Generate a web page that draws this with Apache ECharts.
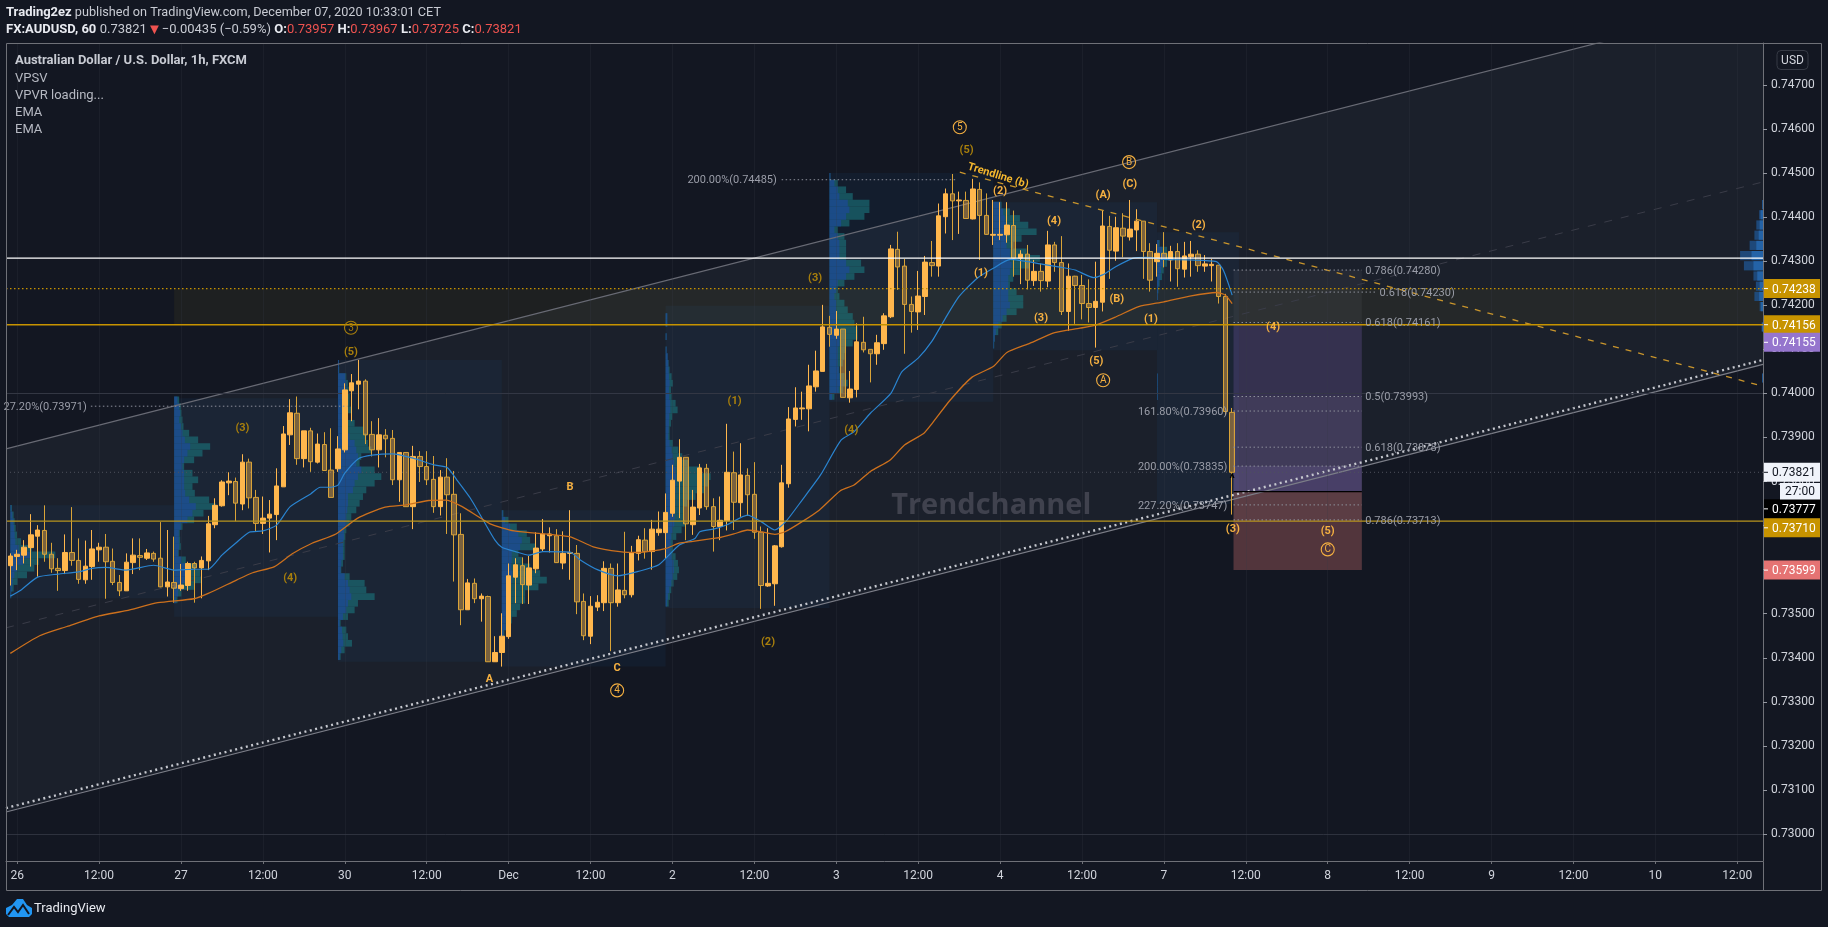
<!DOCTYPE html>
<html><head><meta charset="utf-8"><style>html,body{margin:0;padding:0;background:#131722}#c{width:1828px;height:927px}</style>
<script src="https://cdn.jsdelivr.net/npm/echarts@6/dist/echarts.min.js"></script></head><body><div id="c"></div>
<script>
const opens=[.73609,.73630,.73633,.73650,.73676,.73689,.73635,.73603,.73598,.73639,.73621,.73577,.73607,.73645,.73651,.73619,.73571,.73552,.73616,.73632,.73626,.73637,.73626,.73561,.73571,.73557,.73564,.73614,.73604,.73620,.73702,.73745,.73797,.73800,.73749,.73844,.73764,.73705,.73717,.73725,.73788,.73906,.73955,.73852,.73915,.73844,.73884,.73826,.73829,.73872,.74006,.74021,.74028,.73907,.73872,.73905,.73898,.73804,.73866,.73743,.73857,.73834,.73805,.73743,.73810,.73771,.73680,.73509,.73569,.73534,.73539,.73391,.73412,.73448,.73583,.73609,.73565,.73602,.73647,.73677,.73677,.73615,.73637,.73637,.73528,.73449,.73515,.73525,.73603,.73525,.73553,.73543,.73637,.73667,.73641,.73684,.73684,.73728,.73801,.73855,.73702,.73740,.73830,.73743,.73698,.73711,.73820,.73752,.73814,.73771,.73685,.73563,.73568,.73652,.73795,.73941,.73965,.73965,.74015,.74050,.74150,.74132,.74146,.73990,.74009,.74116,.74100,.74090,.74113,.74174,.74327,.74289,.74202,.74185,.74220,.74297,.74289,.74401,.74453,.74437,.74438,.74396,.74463,.74404,.74359,.74359,.74360,.74381,.74307,.74316,.74256,.74277,.74255,.74337,.74297,.74186,.74266,.74245,.74204,.74195,.74207,.74379,.74323,.74375,.74355,.74371,.74391,.74322,.74299,.74318,.74303,.74322,.74282,.74310,.74316,.74289,.74290,.74291,.74220,.73957];
const closes=[.73631,.73635,.73651,.73679,.73690,.73635,.73602,.73598,.73639,.73621,.73578,.73608,.73647,.73651,.73618,.73571,.73552,.73617,.73633,.73628,.73638,.73624,.73561,.73572,.73558,.73565,.73614,.73604,.73621,.73704,.73746,.73799,.73801,.73751,.73844,.73763,.73705,.73717,.73726,.73790,.73908,.73956,.73852,.73915,.73845,.73885,.73825,.73764,.73874,.74008,.74024,.74028,.73906,.73872,.73906,.73897,.73804,.73866,.73743,.73857,.73834,.73804,.73743,.73810,.73770,.73679,.73509,.73570,.73534,.73540,.73391,.73412,.73449,.73586,.73611,.73566,.73604,.73649,.73681,.73681,.73616,.73637,.73639,.73527,.73450,.73517,.73526,.73603,.73525,.73554,.73543,.73638,.73668,.73641,.73692,.73692,.73730,.73803,.73855,.73704,.73742,.73831,.73743,.73698,.73712,.73821,.73753,.73815,.73770,.73685,.73564,.73569,.73654,.73797,.73942,.73967,.73967,.74017,.74051,.74151,.74134,.74146,.73991,.74010,.74117,.74099,.74090,.74115,.74176,.74328,.74287,.74202,.74186,.74221,.74298,.74290,.74403,.74453,.74437,.74439,.74397,.74464,.74404,.74361,.74361,.74361,.74382,.74307,.74316,.74257,.74277,.74256,.74337,.74297,.74186,.74266,.74245,.74204,.74195,.74209,.74380,.74325,.74376,.74357,.74373,.74391,.74322,.74257,.74318,.74304,.74322,.74283,.74312,.74316,.74290,.74294,.74293,.74220,.73959,.73821];
const lows=[.73564,.73599,.73614,.73607,.73584,.73618,.73593,.73552,.73590,.73609,.73568,.73568,.73577,.73618,.73534,.73565,.73540,.73552,.73590,.73599,.73622,.73618,.73560,.73539,.73525,.73552,.73552,.73525,.73535,.73599,.73694,.73743,.73769,.73710,.73735,.73739,.73686,.73681,.73639,.73667,.73788,.73883,.73838,.73832,.73822,.73841,.73825,.73764,.73822,.73866,.73937,.73964,.73885,.73857,.73832,.73855,.73792,.73754,.73743,.73692,.73799,.73792,.73729,.73723,.73681,.73573,.73474,.73509,.73524,.73482,.73391,.73391,.73380,.73443,.73524,.73522,.73522,.73592,.73642,.73639,.73616,.73601,.73577,.73499,.73440,.73431,.73506,.73506,.73415,.73516,.73535,.73537,.73621,.73625,.73600,.73677,.73626,.73720,.73717,.73667,.73679,.73724,.73736,.73641,.73667,.73689,.73690,.73720,.73722,.73670,.73511,.73561,.73518,.73650,.73786,.73925,.73940,.73914,.74004,.74050,.74106,.74124,.73991,.73979,.73991,.74093,.74025,.74065,.74099,.74171,.74235,.74090,.74138,.74144,.74178,.74265,.74265,.74363,.74348,.74362,.74396,.74395,.74303,.74360,.74337,.74348,.74342,.74265,.74248,.74236,.74244,.74231,.74241,.74276,.74178,.74142,.74158,.74168,.74161,.74104,.74186,.74260,.74301,.74309,.74347,.74323,.74260,.74231,.74265,.74286,.74254,.74242,.74263,.74265,.74276,.74276,.74254,.74204,.73951,.73725];
const highs=[.73637,.73645,.73667,.73726,.73701,.73746,.73661,.73626,.73680,.73742,.73671,.73666,.73690,.73661,.73681,.73648,.73588,.73637,.73671,.73671,.73647,.73641,.73708,.73690,.73675,.73613,.73618,.73618,.73630,.73722,.73762,.73803,.73821,.73809,.73862,.73852,.73781,.73766,.73758,.73830,.73926,.73987,.73993,.73915,.73922,.73909,.73912,.73921,.73903,.74023,.74044,.74076,.74032,.73937,.73944,.73919,.73917,.73866,.73866,.73881,.73869,.73869,.73858,.73826,.73853,.73824,.73728,.73579,.73580,.73546,.73541,.73449,.73501,.73614,.73626,.73628,.73631,.73685,.73715,.73696,.73692,.73687,.73735,.73656,.73546,.73540,.73542,.73619,.73614,.73614,.73686,.73654,.73677,.73694,.73713,.73732,.73773,.73838,.73896,.73855,.73781,.73840,.73840,.73762,.73766,.73931,.73868,.73887,.73830,.73844,.73698,.73694,.73656,.73838,.73969,.74014,.74004,.74065,.74097,.74201,.74176,.74187,.74146,.74051,.74159,.74174,.74100,.74133,.74182,.74337,.74367,.74305,.74220,.74278,.74312,.74346,.74431,.74465,.74498,.74458,.74458,.74487,.74479,.74454,.74439,.74434,.74434,.74415,.74325,.74337,.74303,.74295,.74369,.74344,.74357,.74295,.74267,.74269,.74259,.74299,.74416,.74403,.74401,.74409,.74439,.74418,.74391,.74341,.74339,.74366,.74335,.74341,.74344,.74346,.74325,.74314,.74305,.74291,.74226,.73967];

const emaFastBars=[0,1.4,4,7,10,12,14,17,21,24,27,29,31,33,35,37,39,41,44,45.4,47,48,49,51,53,56,59,62,64,65.4,67.4,69,71,72,74,76,78,82,83.5,86,89,92,95,98,100.3,101,103,105,108,110,112,113.6,116,118.7,121.7,123.6,126,129,130.6,133,135,137,139,141.6,144,146.5,151.3,154,156,158.7,160,162,164.5,166.5,169,172.8,176.7,177.7,179];
const emaFast=[.73540,.73552,.73583,.73590,.73595,.73603,.73605,.73599,.73610,.73599,.73601,.73601,.73633,.73660,.73685,.73688,.73701,.73743,.73772,.73787,.73787,.73792,.73819,.73852,.73860,.73863,.73853,.73838,.73832,.73804,.73762,.73720,.73667,.73651,.73641,.73633,.73641,.73640,.73622,.73600,.73586,.73596,.73611,.73656,.73671,.73686,.73692,.73702,.73724,.73709,.73690,.73709,.73758,.73815,.73894,.73913,.73955,.74000,.74049,.74080,.74118,.74171,.74220,.74261,.74284,.74304,.74293,.74286,.74280,.74263,.74269,.74288,.74307,.74309,.74304,.74303,.74299,.74280,.74223];
const emaSlowBars=[0,4.3,8.3,13,17,21.6,26.9,29,33.2,35.5,38.7,41.3,44.2,47.7,50.9,54.9,58,61.3,63.9,66.2,70.3,73.8,81.9,85.4,89.3,92,96,98,100,103,104,106,108,110,112,113.5,116,118.5,121.6,123.6,126,128.9,131,133.8,135,137.7,140.9,144,146,149.4,153,156.7,159,162,165.3,169,172.8,176.7,178,179];
const emaSlow=[.73410,.73450,.73471,.73495,.73507,.73525,.73534,.73546,.73577,.73593,.73607,.73636,.73660,.73681,.73717,.73742,.73747,.73757,.73758,.73743,.73704,.73688,.73675,.73652,.73641,.73639,.73648,.73660,.73664,.73671,.73673,.73681,.73690,.73686,.73680,.73686,.73709,.73735,.73779,.73792,.73823,.73849,.73883,.73909,.73931,.73985,.74037,.74061,.74093,.74114,.74138,.74148,.74155,.74174,.74197,.74208,.74221,.74229,.74223,.74204];

const tickBars=[1,13,25,37,49,61,73,85,97,109,121,133,145,157,169,181,193,205,217,229,241,253];
const tickLabels=['26','12:00','27','12:00','30','12:00','Dec','12:00','2','12:00','3','12:00','4','12:00','7','12:00','8','12:00','9','12:00','10','12:00'];
const priceTicks=[.730,.731,.732,.733,.734,.735,.736,.737,.738,.739,.740,.741,.742,.743,.744,.745,.746,.747];

// session boxes: first bar, last bar, high, low
const sessionFrom=[0,24,48,72,96,120,144,168];
const sessionTo=[24,48,72,96,120,144,168,180];
const sessionHigh=[.73746,.73989,.74076,.73735,.74199,.74500,.74434,.74366];
const sessionLow=[.73535,.73493,.73391,.73380,.73513,.73981,.74098,.73749];
const sessionTop=[.73747,.73993,.74076,.73735,.74182,.74500,.74435,.74348];
const rowStep=.0001513;
const vpTotal1=[5,10,13,16,20,32,65,135,85,72,50,22,10,3];
const vpUp1=[3,6,9,11,13,15,25,58,38,20,12,7,5,2];
const vpTotal2=[15,20,22,25,28,45,72,108,85,60,30,55,72,55,62,105,125,88,60,25,17,18,20,14,35,65,78,80,60,22,10];
const vpUp2=[10,15,18,15,20,25,32,48,40,30,25,30,30,30,33,45,65,55,40,20,14,14,15,12,22,35,38,32,25,12,5];
const vpTotal3=[3,4,25,30,32,35,35,40,30,50,75,85,90,100,70,65,110,130,110,85,75,65,55,40,35,25,22,20,20,20,15,10,35,80,85,110,60,50,30,8,25,30,42,20,8];
const vpUp3=[3,3,22,25,25,30,28,28,28,30,30,35,50,55,60,55,70,60,50,45,30,30,28,25,25,18,18,15,15,15,10,8,20,30,35,40,30,25,15,5,12,14,16,10,5];
const vpTotal4=[5,20,45,75,85,100,50,60,85,115,135,110,70,70,55,45,30,22,8];
const vpUp4=[3,10,25,50,60,55,30,30,28,32,30,28,22,20,18,15,12,12,5];
const vpTotal5=[5,5,0,3,0,3,6,9,12,18,22,16,18,30,36,20,16,12,12,22,38,50,68,105,135,130,115,90,65,55,55,58,48,32,22,22,30,37,40,35,24,17,13,9];
const vpUp5=[5,5,0,3,0,3,6,8,9,10,12,10,11,14,14,11,10,9,8,12,18,22,26,30,31,31,30,29,29,27,27,26,21,17,15,15,18,24,25,22,17,11,7,4];
const vpTotal6=[3,25,50,70,120,120,105,60,25,45,50,50,50,95,105,75,45,25,30,45,55,70,75,85,85,70,50,45,40,30,45,55,40,15];
const vpUp6=[3,15,25,30,55,60,50,35,15,25,30,30,30,50,60,50,25,20,15,20,20,20,22,24,30,30,25,25,25,28,30,40,28,8];
const vpTotal7=[25,50,80,105,130,85,60,100,140,110,80,60,50,70,90,90,70,40,25,15,5,3];
const vpUp7=[22,30,35,38,40,40,40,50,50,55,50,45,45,45,45,50,40,28,15,8,4,2];
const vpTotal8=[8,30,50,30,20,15,8,4,2,0,0,0,0,0,0,0,0,0,0,0,2,2,2,2];
const vpUp8=[5,15,25,18,12,10,5,3,2,0,0,0,0,0,0,0,0,0,0,0,2,2,2,2];
const vpTotals=[vpTotal1,vpTotal2,vpTotal3,vpTotal4,vpTotal5,vpTotal6,vpTotal7,vpTotal8];
const vpUps=[vpUp1,vpUp2,vpUp3,vpUp4,vpUp5,vpUp6,vpUp7,vpUp8];
const volumePerBar=20.475;

// right hand VPVR rows
const vpvrTop=.74439, vpvrStep=.0002315;
const vpvrTotal=[2,8,14,18,28,48,40,20,15,18,7,0,3,0,0,0,0,2];
const vpvrUp=[1,5,7,9,14,24,20,12,7,8,4,0,2,0,0,0,0,1];
const vpvrPerBar=14.3;

const xMin=-0.634,xMax=256.77,yMin=.729388,yMax=.747953;

const waveBars=[49.9,34,41,70.2,82,88.9,111,106.1,117.9,123.2,140.1,145,142.2,152.9,151,160.1,164,162.1,159.1,167.1,174.1,185,179.1,193];
const wavePrices=[.74096,.73924,.73583,.73353,.73789,.73379,.73437,.73985,.74263,.73919,.74554,.74462,.74274,.74393,.74173,.74451,.74477,.74216,.74075,.74170,.74385,.74152,.73694,.73689];
const waveTexts=['(5)','(3)','(4)','A','B','C','(2)','(1)','(3)','(4)','(5)','(2)','(1)','(4)','(3)','(A)','(C)','(B)','(5)','(1)','(2)','(4)','(3)','(5)'];
const waveDim=[1,1,1,0,0,0,1,1,1,1,1,0,0,0,0,0,0,0,0,0,0,0,0,0];
const circleBars=[49.9,88.9,139.1,163.9,160.1,193];
const circlePrices=[.74149,.73326,.74604,.74525,.74030,.73646];
const circleTexts=['3','4','5','B','A','C'];

const fibFrom=[11.8,113,179.2,179.2,179.2,179.2,179.2,179.2,179.2,179.2,179.2];
const fibTo=[49.4,138.6,198,200,198,198,198,198,198,198,198];
const fibPrices=[.73971,.74485,.74280,.74230,.74161,.73993,.73960,.73878,.73835,.73747,.73713];
const fibLabelBars=[198.5,200.6,198.5,198.5,198.5,198.5];
const fibLabelPrices=[.74280,.74230,.74161,.73993,.73878,.73713];
const fibLabelTexts=['0.786(0.74280)','0.618(0.74230)','0.618(0.74161)','0.5(0.73993)','0.618(0.73878)','0.786(0.73713)'];
const extLabelBars=[11.2,112.3,178.3,178.3,178.3];
const extLabelPrices=[.73971,.74485,.73960,.73835,.73747];
const extLabelTexts=['27.20%(0.73971)','200.00%(0.74485)','161.80%(0.73960)','200.00%(0.73835)','227.20%(0.73747)'];

// right-axis badges: text, price the badge is drawn at, background, text colour
const badgeTexts=['0.74238','0.74156','0.74155','0.73821','0.73777','0.73710','0.73599'];
const badgeAnchors=[.74238,.74156,.74116,.73821,.73738,.73695,.73599];
const badgeFills=['#c79300','#c79300','#9575cd','#f0f3fa','#000000','#c79300','#e57373'];
const badgeInks=['#ffffff','#ffffff','#ffffff','#131722','#ffffff','#ffffff','#ffffff'];

const font='Roboto, "Liberation Sans", sans-serif';
const GOLD_DIM='#a87f0c',GOLD='#f5b041';

function rectSeries(name,rows,color,z,extra){
  return Object.assign({type:'custom',name,silent:true,z,coordinateSystem:'cartesian2d',encode:{x:[0,1],y:[2,3]},data:rows,
    renderItem:(p,api)=>{
      const a=api.coord([api.value(0),api.value(2)]),b=api.coord([api.value(1),api.value(3)]);
      const s=echarts.graphic.clipRectByRect({x:Math.min(a[0],b[0]),y:Math.min(a[1],b[1]),width:Math.abs(a[0]-b[0]),height:Math.abs(a[1]-b[1])},
        {x:p.coordSys.x,y:p.coordSys.y,width:p.coordSys.width,height:p.coordSys.height});
      return s&&{type:'rect',shape:s,style:{fill:color}};
    }},extra||{});
}
function lineSeries(name,pts,color,width,type,z,opacity){
  return {type:'line',name,data:pts,showSymbol:false,silent:true,z,clip:true,lineStyle:{color,width,type:type||'solid',opacity:opacity==null?1:opacity}};
}
function textSeries(name,bars,prices,texts,style,z,colors){
  return {type:'custom',name,silent:true,z,coordinateSystem:'cartesian2d',encode:{x:0,y:1},data:bars.map((b,i)=>[b,prices[i],i]),clip:false,
    renderItem:(p,api)=>{
      const c=api.coord([api.value(0),api.value(1)]),i=api.value(2);
      return {type:'text',x:c[0],y:c[1]+1,rotation:style.rotation||0,style:{text:texts[i],fill:colors?colors[i]:style.fill,font:style.font,align:style.align||'center',verticalAlign:'middle'}};
    }};
}
const rows=[[],[]];
vpTotals.forEach((tot,s)=>tot.forEach((v,i)=>{
  const hi=sessionTop[s]-i*rowStep,lo=hi-rowStep,from=sessionFrom[s];
  if(v>0){rows[0].push([from,from+v/volumePerBar,hi,lo]);rows[1].push([from,from+vpUps[s][i]/volumePerBar,hi,lo]);}
}));
const vpvrRowsT=[],vpvrRowsU=[];
vpvrTotal.forEach((v,i)=>{ if(!v)return; const hi=vpvrTop-i*vpvrStep,lo=hi-vpvrStep*.9;
  vpvrRowsT.push([xMax-v/vpvrPerBar,xMax,hi,lo]);vpvrRowsU.push([xMax-vpvrUp[i]/vpvrPerBar,xMax,hi,lo]);});

const candleData=opens.map((o,i)=>[i,o,closes[i],lows[i],highs[i]]);
const gridColor='rgba(54,58,72,0.24)';
const series=[
  {type:'custom',name:'Channel fill',silent:true,z:1,coordinateSystem:'cartesian2d',encode:{x:0,y:1},data:[[xMin,.73874],[xMax,.74891],[xMax,.74066],[xMin,.73050]],
   renderItem:(p,api)=>{ if(api.value(0)!==xMin||p.dataIndex!==0)return null;
     const pts=[[xMin,.73874],[xMax,.74891],[xMax,.74066],[xMin,.73050]].map(q=>api.coord(q));
     return {type:'polygon',shape:{points:pts},clipPath:{type:'rect',shape:{x:p.coordSys.x,y:p.coordSys.y,width:p.coordSys.width,height:p.coordSys.height}},style:{fill:'rgba(120,123,134,0.085)'}};
   }},
  rectSeries('Sessions',sessionFrom.map((f,i)=>[f,sessionTo[i],sessionHigh[i],sessionLow[i]]),'rgba(33,120,200,0.07)',2),
  rectSeries('Zone',[[24,xMax,.74238,.74156]],'rgba(180,150,30,0.075)',2),
  rectSeries('Fib fill 1',[[179.2,198,.74280,.74161]],'rgba(170,170,190,0.07)',2),
  rectSeries('Fib fill 2',[[179.2,198,.74161,.73993]],'rgba(170,170,190,0.06)',2),
  rectSeries('Fib fill 3',[[179.2,198,.73993,.73777]],'rgba(210,205,215,0.12)',2),
  rectSeries('Fib fill 5',[[179.2,198,.73835,.73777]],'rgba(150,130,210,0.16)',2),
  rectSeries('Risk',[[179.2,198,.74156,.73777]],'rgba(126,87,194,0.2)',2),
  rectSeries('Reward',[[179.2,198,.73777,.73599]],'rgba(200,110,110,0.35)',2),
  rectSeries('Reward level',[[179.2,198,.73777,.73713]],'rgba(230,210,210,0.06)',2),
  rectSeries('Volume total',rows[0],'rgba(27,118,125,0.6)',3),
  rectSeries('Volume up',rows[1],'rgba(30,72,155,0.68)',3),
  rectSeries('VPVR total',vpvrRowsT,'rgba(30,80,135,0.85)',3),
  rectSeries('VPVR up',vpvrRowsU,'rgba(38,105,175,0.85)',3),
  {type:'line',name:'Grid',data:[],z:1,silent:true,markLine:{silent:true,symbol:'none',animation:false,label:{show:false},lineStyle:{color:gridColor,width:1,type:'solid'},
    data:tickBars.map(b=>({xAxis:b})).concat(priceTicks.map(p=>({yAxis:p})))}},
  lineSeries('Channel upper',[[xMin,.73874],[xMax,.74891]],'#686a74',1.2,'solid',4),
  lineSeries('Channel lower',[[xMin,.73050],[xMax,.74066]],'#7c7e88',1.2,'solid',4),
  lineSeries('Channel lower dotted',[[xMin,.73059],[xMax,.74076]],'#c6c8cf',2.4,[2,3.5],4),
  lineSeries('Channel mid',[[xMin,.73468],[xMax,.74480]],'#3a3c48',1,[8,9],4),
  lineSeries('Trendline b',[[139.1,.74502],[256.6,.74017]],'#c9952c',1.3,[6,7],6),
  lineSeries('Last price',[[xMin,.73821],[xMax,.73821]],'#4e515c',1,[1,3],4),
  {type:'candlestick',name:'AUDUSD',data:candleData,encode:{x:0,y:[1,2,3,4]},barWidth:5,z:5,silent:true,clip:true,
   itemStyle:{color:'#ffb74d',color0:'rgba(255,183,77,0.42)',borderColor:'#ffb74d',borderColor0:'#d9a338',borderWidth:1}},
  {type:'line',name:'EMA fast',data:emaFastBars.map((b,i)=>[b,emaFast[i]]),showSymbol:false,silent:true,smooth:.2,z:6,lineStyle:{color:'#2a84d0',width:1.2}},
  {type:'line',name:'EMA slow',data:emaSlowBars.map((b,i)=>[b,emaSlow[i]]),showSymbol:false,silent:true,smooth:.2,z:6,lineStyle:{color:'#cc701d',width:1.3}},
  lineSeries('Level white',[[xMin,.74307],[xMax,.74307]],'#ffffff',1.4,'solid',7),
  lineSeries('Level 74238',[[xMin,.74238],[xMax,.74238]],'#c79300',1.2,[1.5,2.5],7),
  lineSeries('Level 74156',[[xMin,.74156],[xMax,.74156]],'#c79300',1.5,'solid',7),
  lineSeries('Level 73710',[[xMin,.73710],[xMax,.73710]],'#b8951e',1.2,'solid',7),
  lineSeries('Entry',[[179.2,.73777],[198,.73777]],'#000000',1.2,'solid',7)
];
fibFrom.forEach((f,i)=>series.push(lineSeries('Fib '+fibPrices[i],[[f,fibPrices[i]],[fibTo[i],fibPrices[i]]],'#8c8f9a',1,[1.5,2.5],7)));
series.push(
  textSeries('Watermark',[143.7],[.73747],['Trendchannel'],{font:'bold 29px "Open Sans", Roboto, sans-serif',fill:'#40424e'},3),
  textSeries('Wave labels',waveBars,wavePrices,waveTexts,{font:'bold 11px '+font},9,waveDim.map(d=>d?GOLD_DIM:GOLD)),
  {type:'custom',name:'Wave circles',silent:true,z:9,coordinateSystem:'cartesian2d',encode:{x:0,y:1},data:circleBars.map((b,i)=>[b,circlePrices[i],i]),clip:false,
   renderItem:(p,api)=>{const c=api.coord([api.value(0),api.value(1)]),i=api.value(2);
     return {type:'group',x:c[0],y:c[1],children:[
       {type:'circle',shape:{cx:0,cy:0,r:6.5},style:{fill:'none',stroke:i<1?GOLD_DIM:GOLD,lineWidth:1.1}},
       {type:'text',x:0,y:.5,style:{text:circleTexts[i],fill:i<1?GOLD_DIM:GOLD,font:'10px '+font,align:'center',verticalAlign:'middle'}}]};}},
  textSeries('Trendline label',[144.7],[.74496],['Trendline (b)'],{font:'bold 11px '+font,fill:'#f5b82e',rotation:-0.30},9),
  textSeries('Fib labels',fibLabelBars,fibLabelPrices,fibLabelTexts,{font:'11px '+font,fill:'#9a9da8',align:'left'},9),
  textSeries('Ext labels',extLabelBars,extLabelPrices,extLabelTexts,{font:'11px '+font,fill:'#9a9da8',align:'right'},9),
  textSeries('Caret',[179],[.73805],['^'],{font:'bold 12px '+font,fill:'#000000'},9)
);

const FRAME='#6f7178';
const chart=echarts.init(document.getElementById('c'),null,{renderer:'canvas'});
chart.setOption({
  animation:false,backgroundColor:'#131722',
  grid:{left:6,top:43,right:65,bottom:66,show:false},
  xAxis:{type:'value',min:xMin,max:xMax,splitLine:{show:false},axisLine:{show:true,onZero:false,lineStyle:{color:FRAME}},
    axisTick:{show:true,customValues:tickBars,length:3,lineStyle:{color:FRAME}},
    axisLabel:{customValues:tickBars,color:'#d1d4dc',fontFamily:font,fontSize:12,margin:9,formatter:v=>tickLabels[tickBars.indexOf(Math.round(v))]||''}},
  yAxis:{type:'value',position:'right',min:yMin,max:yMax,scale:true,splitLine:{show:false},axisLine:{show:true,onZero:false,lineStyle:{color:FRAME}},
    axisTick:{show:true,customValues:priceTicks,length:4,lineStyle:{color:'#9598a1'}},
    axisLabel:{customValues:priceTicks,color:'#d1d4dc',fontFamily:font,fontSize:12,margin:8,padding:[4,0,0,0],formatter:v=>v.toFixed(5)}},
  series
});
const yOf=p=>chart.convertToPixel({yAxisIndex:0},p);
const gfx=[];
const T=(x,y,text,font2,fill,extra)=>gfx.push({type:'text',x,y,z:50,style:Object.assign({text,font:font2,fill,verticalAlign:'middle'},extra||{})});
// frame
[[6,43,1821,43],[6,43,6,890],[6,890,1821,890],[1821,43,1821,890]].forEach(l=>gfx.push({type:'line',z:40,shape:{x1:l[0]+.5,y1:l[1]+.5,x2:l[2]+.5,y2:l[3]+.5},style:{stroke:FRAME,lineWidth:1}}));
gfx.push({type:'line',z:40,shape:{x1:1763.5,y1:861.5,x2:1763.5,y2:890},style:{stroke:FRAME,lineWidth:1}});
// header
gfx.push({type:'text',x:6,y:13,z:50,style:{verticalAlign:'middle',rich:{b:{font:'bold 13px '+font,fill:'#e8eaf0'},n:{font:'12.7px '+font,fill:'#c8cbd3'}},text:'{b|Trading2ez}{n| published on TradingView.com, December 07, 2020 10:33:01 CET}'}});
gfx.push({type:'text',x:6,y:30,z:50,style:{verticalAlign:'middle',rich:{b:{font:'bold 13px '+font,fill:'#e8eaf0'},n:{font:'13px '+font,fill:'#c8cbd3'},r:{font:'13px '+font,fill:'#ef5350'},t:{font:'15px '+font,fill:'#ef5350'}},text:'{b|FX:AUDUSD, 60} {n|0.73821}{t|▼}{n|−0.00435 (−0.59%)} {b|O:}{r|0.73957} {b|H:}{r|0.73967} {b|L:}{r|0.73725} {b|C:}{r|0.73821}'}});
// legend
T(15,61,'Australian Dollar / U.S. Dollar, 1h, FXCM','bold 13px '+font,'#c8cbd3');
[['VPSV',78.5],['VPVR loading...',96],['EMA',112.5],['EMA',129.5]].forEach(r=>T(15,r[1],r[0],'13px '+font,'#b6b9c2'));
// USD box
gfx.push({type:'rect',z:40,shape:{x:1777,y:50.5,width:31,height:19,r:4},style:{fill:'#131722',stroke:'#363a45',lineWidth:1}});
T(1792.5,61,'USD','12px '+font,'#d1d4dc',{align:'center'});
// badges
badgeTexts.forEach((t,i)=>{const y=yOf(badgeAnchors[i]);
  gfx.push({type:'rect',z:45,shape:{x:1764,y:y-9.5,width:56,height:19},style:{fill:badgeFills[i]}});
  gfx.push({type:'rect',z:46,shape:{x:1764,y:y-.5,width:4,height:1},style:{fill:badgeInks[i]}});
  T(1772,y+1,t,'12px '+font,badgeInks[i]);
});
gfx.push({type:'rect',z:45,shape:{x:1780,y:483,width:40,height:16.5},style:{fill:'#f0f3fa'}});
T(1800,492,'27:00','12px '+font,'#131722',{align:'center'});
// logo
gfx.push({type:'polygon',z:50,shape:{points:[[6,914],[6,908],[12,905],[17,899],[23,899],[27,905],[32,908],[32,914],[29,917],[9,917]]},style:{fill:'#2196f3'}});
gfx.push({type:'polyline',z:51,shape:{points:[[8,915],[14,907],[18,912],[23,905],[29,914]]},style:{stroke:'#131722',fill:'none',lineWidth:2}});
T(34,909,'TradingView','13px '+font,'#e8eaf0');
chart.setOption({graphic:gfx});
</script></body></html>
